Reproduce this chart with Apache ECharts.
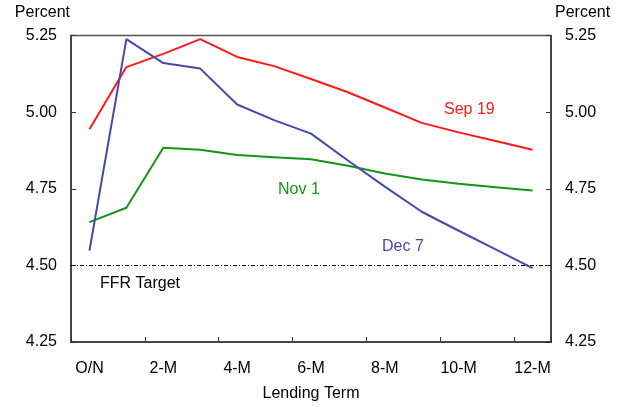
<!DOCTYPE html>
<html>
<head>
<meta charset="utf-8">
<script src="https://cdn.jsdelivr.net/npm/echarts@6/dist/echarts.min.js"></script>
<style>
  html, body { margin: 0; padding: 0; background: #fff; }
  #main { width: 624px; height: 407px; }
</style>
</head>
<body>
<div id="main"></div>
<script>
const terms = ['O/N', '1-M', '2-M', '3-M', '4-M', '5-M', '6-M', '7-M', '8-M', '9-M', '10-M', '11-M', '12-M'];
const sep19 = [4.944, 5.147, 5.19, 5.238, 5.18, 5.15, 5.108, 5.065, 5.015, 4.965, 4.934, 4.906, 4.877];
const nov1 = [4.641, 4.688, 4.884, 4.877, 4.86, 4.853, 4.846, 4.825, 4.80, 4.78, 4.766, 4.755, 4.744];
const dec7 = [4.548, 5.238, 5.16, 5.142, 5.025, 4.974, 4.93, 4.842, 4.757, 4.675, 4.613, 4.552, 4.491];
const ffrTarget = 4.5;
const yTicks = [4.25, 4.5, 4.75, 5.0, 5.25];

const font = '"Liberation Sans", Arial, sans-serif';
const chartDom = document.getElementById('main');
const myChart = echarts.init(chartDom);

const axisLine = { show: true, lineStyle: { color: '#333', width: 1.5 } };

const option = {
    animation: false,
    textStyle: { fontFamily: font },
    grid: { left: 71, right: 73, top: 35.5, bottom: 62.5, show: true, borderColor: '#555', borderWidth: 1.5 },
    xAxis: {
        type: 'category',
        data: terms,
        boundaryGap: true,
        axisLine: axisLine,
        axisTick: { show: true, inside: true, length: 5, lineStyle: { color: '#333' } },
        axisLabel: {
            interval: 1,
            margin: 19,
            color: '#000',
            fontSize: 16,
            fontFamily: font
        },
        name: 'Lending Term',
        nameLocation: 'middle',
        nameGap: 44,
        nameTextStyle: { color: '#000', fontSize: 16, fontFamily: font },
        splitLine: { show: false }
    },
    yAxis: [
        {
            type: 'value',
            min: yTicks[0],
            max: yTicks[yTicks.length - 1],
            interval: 0.25,
            position: 'left',
            axisLine: axisLine,
            axisTick: { show: true, inside: true, length: 5, lineStyle: { color: '#333' } },
            axisLabel: { margin: 14, color: '#000', fontSize: 16, fontFamily: font, formatter: v => v.toFixed(2) },
            splitLine: { show: false },
            name: 'Percent',
            nameLocation: 'end',
            nameGap: 15,
            nameTextStyle: { color: '#000', fontSize: 16, fontFamily: font, align: 'right', padding: [0, 1, 0, 0] }
        },
        {
            type: 'value',
            min: yTicks[0],
            max: yTicks[yTicks.length - 1],
            interval: 0.25,
            position: 'right',
            axisLine: axisLine,
            axisTick: { show: true, inside: true, length: 5, lineStyle: { color: '#333' } },
            axisLabel: { margin: 14, color: '#000', fontSize: 16, fontFamily: font, formatter: v => v.toFixed(2) },
            splitLine: { show: false },
            name: 'Percent',
            nameLocation: 'end',
            nameGap: 15,
            nameTextStyle: { color: '#000', fontSize: 16, fontFamily: font, align: 'left', padding: [0, 0, 0, 4] }
        }
    ],
    series: [
        {
            name: 'Sep 19',
            type: 'line',
            data: sep19,
            symbol: 'none',
            lineStyle: { color: '#ff1a1a', width: 2 },
            z: 3,
            markLine: {
                silent: true,
                symbol: 'none',
                label: { show: false },
                lineStyle: { color: '#000', width: 1, type: [4, 2, 1, 2] },
                data: [{ yAxis: ffrTarget }]
            }
        },
        {
            name: 'Nov 1',
            type: 'line',
            data: nov1,
            symbol: 'none',
            lineStyle: { color: '#159415', width: 2 },
            z: 3
        },
        {
            name: 'Dec 7',
            type: 'line',
            data: dec7,
            symbol: 'none',
            lineStyle: { color: '#4747ad', width: 2 },
            z: 3
        }
    ],
    graphic: [
        { type: 'text', left: 444, top: 102, style: { text: 'Sep 19', fill: '#ff1a1a', font: '16px ' + font } },
        { type: 'text', left: 278, top: 182, style: { text: 'Nov 1', fill: '#159415', font: '16px ' + font } },
        { type: 'text', left: 382, top: 239, style: { text: 'Dec 7', fill: '#4747ad', font: '16px ' + font } },
        { type: 'text', left: 100, top: 276, style: { text: 'FFR Target', fill: '#000', font: '16px ' + font } }
    ]
};
myChart.setOption(option);
</script>
</body>
</html>
